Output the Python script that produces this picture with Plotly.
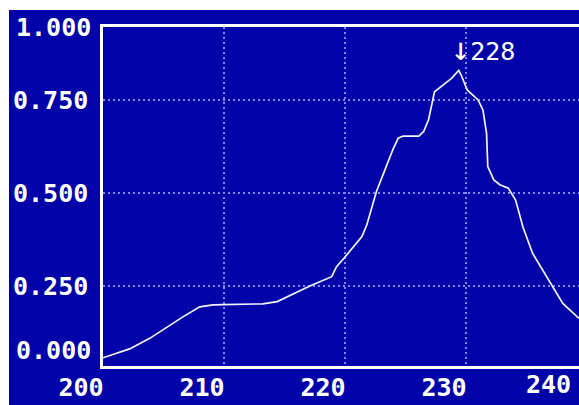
import plotly.graph_objects as go

# Absorbance spectrum, 200-240 nm
wavelength = [200.0, 202.2, 203.9, 205.3, 206.6, 208.0, 209.1, 209.9, 211.6, 213.2,
              214.4, 215.5, 217.1, 218.9, 219.3, 219.9, 220.7, 221.4, 221.8, 222.1,
              222.6, 223.3, 224.0, 224.4, 224.8, 226.1, 226.5, 226.9, 227.2, 227.4,
              228.1, 228.8, 229.4, 229.6, 230.1, 231.0, 231.4, 231.7, 231.8, 232.3,
              232.8, 233.5, 234.1, 234.7, 235.5, 236.1, 237.1, 238.0, 239.2, 239.4]
absorbance = [0.057, 0.081, 0.110, 0.140, 0.167, 0.194, 0.199, 0.200, 0.201, 0.202,
              0.208, 0.226, 0.250, 0.275, 0.302, 0.324, 0.356, 0.383, 0.414, 0.450,
              0.504, 0.562, 0.620, 0.647, 0.653, 0.653, 0.665, 0.696, 0.745, 0.772,
              0.790, 0.808, 0.829, 0.817, 0.777, 0.750, 0.723, 0.660, 0.571, 0.535,
              0.522, 0.513, 0.481, 0.409, 0.338, 0.306, 0.253, 0.203, 0.167, 0.163]

x_ticks = [200, 210, 220, 230]
y_ticks = [0.25, 0.5, 0.75]
peak_label = "228"

BLUE = "#0303AA"
GRID = "#7C8CFF"
FONT = "DejaVu Sans Mono"

fig = go.Figure()
fig.add_trace(go.Scatter(
    x=wavelength, y=absorbance, mode="lines",
    line=dict(color="#F4F4FF", width=1.7),
    hoverinfo="skip", showlegend=False,
))

# peak marker
i_pk = max(range(len(absorbance)), key=lambda i: absorbance[i])
fig.add_annotation(
    x=wavelength[i_pk], y=absorbance[i_pk], xref="x", yref="y",
    text="<span style='font-size:32px'>↓</span>" + peak_label, showarrow=False,
    xanchor="left", yanchor="middle", xshift=-10, yshift=22,
    font=dict(family=FONT, size=25, color="white"),
)

# edge labels for the full-scale limits
label_font = dict(family=FONT, size=25, color="white", weight="bold")
fig.add_annotation(x=0, y=1, xref="paper", yref="paper", text="1.000",
                   showarrow=False, xanchor="right", yanchor="middle",
                   xshift=-10, font=label_font)
fig.add_annotation(x=0, y=0, xref="paper", yref="paper", text="0.000",
                   showarrow=False, xanchor="right", yanchor="middle",
                   xshift=-10, yshift=16, font=label_font)
fig.add_annotation(x=1, y=0, xref="paper", yref="paper", text="240",
                   showarrow=False, xanchor="right", yanchor="top",
                   xshift=-6, yshift=-2, font=label_font)

# screen background
fig.add_shape(type="rect", xref="paper", yref="paper",
              x0=-0.1975, x1=1.01, y0=-0.2, y1=1.0501,
              fillcolor=BLUE, line=dict(width=0), layer="below")

fig.update_layout(
    width=579, height=405,
    margin=dict(l=103, r=0, t=27, b=39),
    paper_bgcolor="white", plot_bgcolor=BLUE,
    font=dict(family=FONT, color="white"),
)
fig.update_xaxes(
    range=[200, 239.34], tickvals=x_ticks, tickformat="d",
    showgrid=True, gridcolor=GRID, gridwidth=2, griddash="2px,3px",
    zeroline=False, showline=True, linecolor="white", linewidth=2.5, mirror=True,
    ticks="", ticklabelshift=-22, ticklabelstandoff=-3,
    tickfont=label_font,
)
fig.update_yaxes(
    range=[0.035, 0.946], tickvals=y_ticks, tickformat=".3f",
    showgrid=True, gridcolor=GRID, gridwidth=2, griddash="2px,3px",
    zeroline=False, showline=True, linecolor="white", linewidth=2.5,
    ticks="", ticklabelstandoff=7,
    tickfont=label_font,
)

fig.write_html("out.html")
